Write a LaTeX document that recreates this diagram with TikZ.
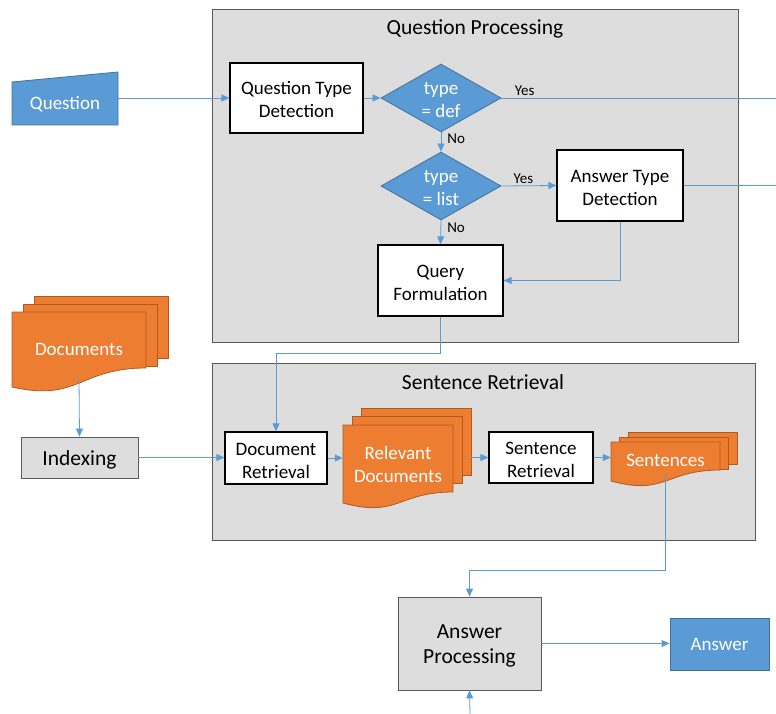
\documentclass[tikz,border=0pt]{standalone}
\usepackage{fontspec}
\setmainfont{Carlito}
\usetikzlibrary{shapes.geometric, arrows.meta, calc}

\definecolor{flowblue}{HTML}{5B9BD5}
\definecolor{flowblueline}{HTML}{41719C}
\definecolor{docorange}{HTML}{ED7D31}
\definecolor{docline}{HTML}{AE5A21}
\definecolor{panelgray}{HTML}{DDDDDD}
\definecolor{panelline}{HTML}{595959}

% stacked documents: name, top-left, width, right height, left height, back height, page offset, text, text options
\newcommand{\docstack}[9]{%
  \begin{scope}[shift={(#2)}]
    \foreach \k in {2,1}
      \draw[docfill] ($\k*(#7)$) rectangle ++(#3,#6);
    \draw[docfill] (0,0) -- (#3,0) -- (#3,#4)
      .. controls (#3/2,#4) and (#3/2,#5+15) .. (0,#5) -- cycle;
    \coordinate (#1 edge) at ($(#3,0)+2*(#7)$);
    \node[doctext, #9, minimum width=#3, minimum height={(#4+#5)/2}] (#1) at (#3/2,{(#4+#5)/4}) {#8};
  \end{scope}}

\begin{document}
\begin{tikzpicture}[x=1pt, y=-1pt,
    oneline/.style={text height=17pt, text depth=4pt},
    twoline/.style={text height=44pt, text depth=4pt},
    bigone/.style={text height=20pt, text depth=4pt},
    box/.style={draw=black, line width=1.2pt, fill=white, align=center,
      font=\fontsize{19}{23}\selectfont, inner sep=0pt},
    graybox/.style={box, draw=panelline, line width=0.8pt, fill=panelgray,
      font=\fontsize{21.5}{25.5}\selectfont},
    bluebox/.style={box, draw=flowblueline, line width=0.8pt, fill=flowblue, text=white},
    decision/.style={diamond, aspect=1.76, draw=flowblueline, line width=0.8pt, fill=flowblue,
      text=white, align=center, font=\fontsize{19}{23}\selectfont, inner sep=-6pt,
      minimum width=120, minimum height=68, twoline},
    docfill/.style={draw=docline, fill=docorange, line width=0.8pt},
    doctext/.style={text=white, align=center, font=\fontsize{19}{23}\selectfont, inner sep=0pt},
    panel/.style={draw=panelline, fill=panelgray, line width=0.8pt},
    title/.style={font=\fontsize{21.5}{26}\selectfont, inner sep=0pt, bigone},
    flow/.style={draw=flowblue, line width=0.8pt, -{Triangle[length=8pt,width=7pt]}},
    link/.style={draw=flowblue, line width=0.8pt},
    lbl/.style={font=\fontsize{15}{18}\selectfont, inner sep=2pt}]

    \useasboundingbox (0,0) rectangle (776,714);

    % Panels
    \draw[panel] (212,9) rectangle (738,342);
    \node[title] (qptitle) at (475,27) {Question Processing};
    \draw[panel] (212,363) rectangle (755,540);
    \node[title] (srtitle) at (483,381) {Sentence Retrieval};

    % Input and output
    \draw[docfill, draw=flowblueline, fill=flowblue] (12,82) -- (118,72) -- (118,125) -- (12,125) -- cycle;
    \node[doctext, oneline, minimum width=106, minimum height=43] (q) at (65,103.5) {Question};
    \node[bluebox, oneline, minimum width=99, minimum height=52] (ans) at (719.5,644) {Answer};

    % Question processing
    \node[box, twoline, minimum width=133, minimum height=70] (qtd) at (296.5,98) {Question Type\\Detection};
    \node[decision] (d1) at (441,98) {type\\= def};
    \node[decision] (d2) at (441,186) {type\\= list};
    \node[box, twoline, minimum width=126, minimum height=71] (atd) at (620,185.5) {Answer Type\\Detection};
    \node[box, twoline, minimum width=125, minimum height=71] (qf) at (440.5,280.5) {Query\\Formulation};

    % Documents and indexing
    \docstack{docs}{12,312}{134}{56}{75}{62}{11,-8}{Documents}{text height=26pt, text depth=4pt}
    \node[graybox, bigone, minimum width=117, minimum height=41] (idx) at (79.5,457.5) {Indexing};

    % Sentence retrieval
    \node[box, twoline, minimum width=102, minimum height=52] (dr) at (276,458) {Document\\Retrieval};
    \docstack{rd}{343,425}{110}{67}{78}{67}{9,-8.5}{Relevant\\Documents}{text height=45.5pt, text depth=4pt}
    \node[box, twoline, minimum width=104, minimum height=51] (srn) at (541,457.5) {Sentence\\Retrieval};
    \docstack{sent}{611,442}{109}{28}{39}{32}{8.7,-4.6}{Sentences}{text height=20pt, text depth=4pt}

    % Answer processing
    \node[graybox, text height=44pt, text depth=4pt, minimum width=143, minimum height=93] (ap) at (469.5,643.5) {Answer\\Processing};

    % Free ends
    \coordinate (defout) at (776,98);
    \coordinate (atdout) at (776,185.5);
    \coordinate (apin) at (470,714);

    % Connections
    \draw[flow] (q.east |- qtd.west) -- (qtd.west);
    \draw[flow] (qtd.east) -- (d1.west);
    \draw[link] (d1.east) -- (defout) node[lbl, pos=0, anchor=south west, xshift=11pt] (yes1) {Yes};
    \draw[flow] (d1.south) -- (d2.north) node[lbl, pos=0.35, anchor=west, xshift=4pt] (no1) {No};
    \draw[flow] (d2.east) -- (atd.west) node[lbl, pos=0.4, above] (yes2) {Yes};
    \draw[flow] (d2.south) -- (qf.north) node[lbl, pos=0.3, anchor=west, xshift=4pt] (no2) {No};
    \draw[link] (atd.east) -- (atdout);
    \draw[flow] (atd.south) |- (qf.east);
    \draw[flow] (qf.south) -- ++(0,37) -| (dr.north);
    \draw[flow] (docs.south) -- (idx.north);
    \draw[flow] (idx.east) -- (dr.west |- idx.east);
    \draw[flow] (dr.east) -- (rd.west |- dr.east);
    \draw[flow] (srn.west -| rd edge) -- (srn.west);
    \draw[flow] (srn.east) -- (sent.west |- srn.east);
    \draw[flow] (sent.south) -- ++(0,94.5) -| (ap.north);
    \draw[flow] (ap.east) -- (ans.west |- ap.east);
    \draw[flow] (apin) -- (ap.south);
\end{tikzpicture}
\end{document}
